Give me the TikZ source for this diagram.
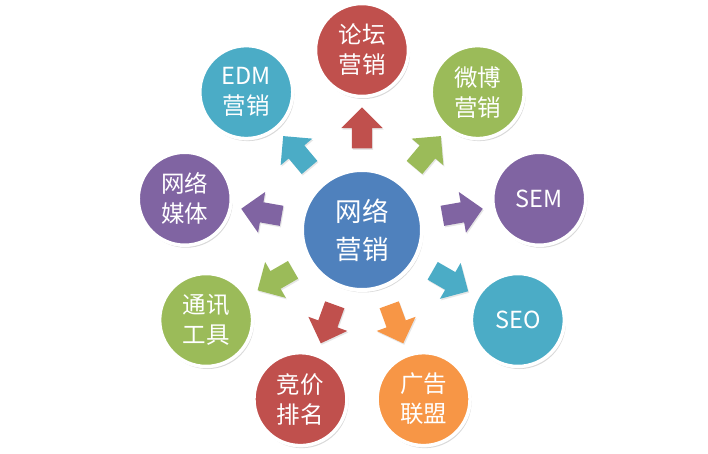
\documentclass[tikz,border=0pt]{standalone}
\usepackage{fontspec}
\newfontfamily\cjk{Noto Sans CJK SC}
\usepackage{xcolor}
\usepackage{tikz}
\usetikzlibrary{shapes.arrows,shadows}

\definecolor{cred}{HTML}{C0504D}
\definecolor{cgreen}{HTML}{9BBB59}
\definecolor{cpurple}{HTML}{8064A2}
\definecolor{cteal}{HTML}{4BACC6}
\definecolor{corange}{HTML}{F79646}
\definecolor{cblue}{HTML}{4F81BD}

\begin{document}
\begin{tikzpicture}[
  font=\cjk,
  ball/.style={circle, draw=white, line width=3.5pt, text=white, align=center, minimum size=93pt, inner sep=0pt,
    drop shadow={opacity=0.3, shadow xshift=1.5pt, shadow yshift=-2.5pt},
    font=\cjk\fontsize{23.5}{30}\selectfont},
  hub/.style={ball, minimum size=120pt, line width=4pt, font=\cjk\fontsize{26.5}{38}\selectfont},
  blockarr/.style={single arrow, single arrow head extend=10.5pt, single arrow head indent=0pt,
    minimum height=41pt, inner sep=10pt, draw=none,
    drop shadow={opacity=0.2, shadow xshift=1pt, shadow yshift=-1.5pt}}]

\useasboundingbox (-362pt,-224pt) rectangle (346pt,230pt);

\node[hub, fill=cblue] (net) at (0,0) {网络\\营销};

\node[ball, fill=cred] (forum) at (90:180pt) {论坛\\营销};
\node[ball, fill=cgreen] (weibo) at (50:180pt) {微博\\营销};
\node[ball, fill=cpurple] (sem) at (10:180pt) {SEM};
\node[ball, fill=cteal] (seo) at (-30:180pt) {SEO};
\node[ball, fill=corange] (ads) at (-70:180pt) {广告\\联盟};
\node[ball, fill=cred] (bid) at (-110:180pt) {竞价\\排名};
\node[ball, fill=cgreen] (im) at (-150:180pt) {通讯\\工具};
\node[ball, fill=cpurple] (media) at (170:180pt) {网络\\媒体};
\node[ball, fill=cteal] (edm) at (130:180pt) {EDM\\营销};

\node[blockarr, fill=cred, rotate=90] (to-forum) at (90:97pt) {};
\node[blockarr, fill=cgreen, rotate=50] (to-weibo) at (50:97pt) {};
\node[blockarr, fill=cpurple, rotate=10] (to-sem) at (10:97pt) {};
\node[blockarr, fill=cteal, rotate=-30] (to-seo) at (-30:97pt) {};
\node[blockarr, fill=corange, rotate=-70] (to-ads) at (-70:95pt) {};
\node[blockarr, fill=cred, rotate=-110] (to-bid) at (-110:95pt) {};
\node[blockarr, fill=cgreen, rotate=-150] (to-im) at (-150:95pt) {};
\node[blockarr, fill=cpurple, rotate=170] (to-media) at (170:97pt) {};
\node[blockarr, fill=cteal, rotate=130] (to-edm) at (130:97pt) {};
\end{tikzpicture}
\end{document}
